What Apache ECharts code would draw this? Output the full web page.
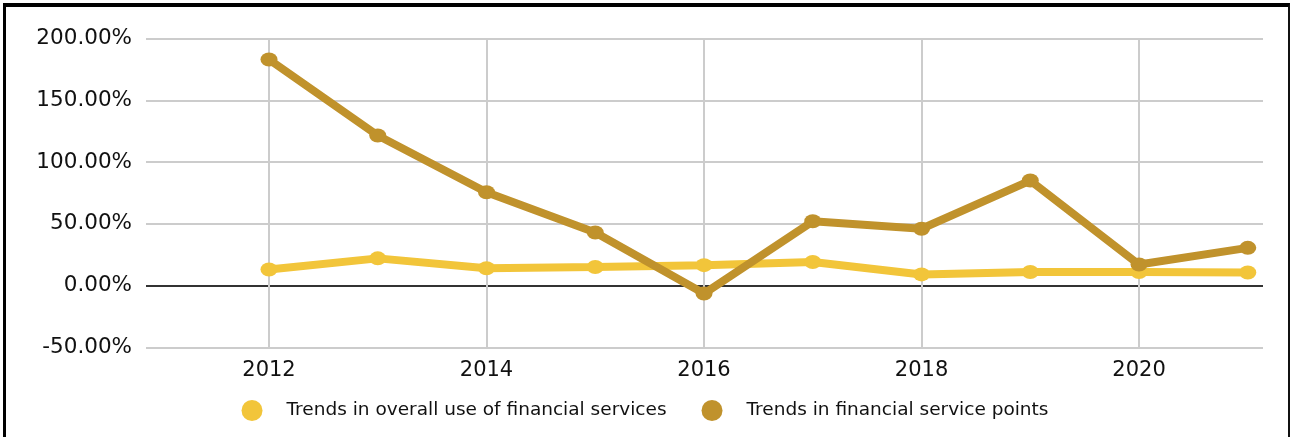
<!DOCTYPE html>
<html>
<head>
<meta charset="utf-8">
<script src="https://cdn.jsdelivr.net/npm/echarts@6/dist/echarts.min.js"></script>
<style>
  html, body { margin: 0; padding: 0; background: #fff; }
  #wrap { position: relative; width: 1290px; height: 437px; overflow: hidden; }
  #chart { position: absolute; left: 0; top: 0; width: 1290px; height: 437px; }
  #frame {
    position: absolute; left: 3px; top: 3px; width: 1282px; height: 440px;
    border-top: 4px solid #000; border-left: 3px solid #000; border-right: 2px solid #111;
    pointer-events: none;
  }
</style>
</head>
<body>
<div id="wrap">
  <div id="chart"></div>
  <div id="frame"></div>
</div>
<script>
// Years on the horizontal axis
const years = [2012, 2013, 2014, 2015, 2016, 2017, 2018, 2019, 2020, 2021];
// Year-on-year change, in percent
const overallUse = [13, 22, 14, 15, 16.5, 19, 9, 11, 11, 10.5];
const servicePoints = [183, 121.5, 75.5, 43, -6.5, 52, 46, 85, 17, 30.5];
// Labelled years on the horizontal axis
const yearTicks = [2012, 2014, 2016, 2018, 2020];
// Vertical axis range
const yMin = -50, yMax = 200, yStep = 50;

const names = ['Trends in overall use of financial services', 'Trends in financial service points'];
const colors = ['#f2c53a', '#c0922c'];
const ellipse = 'path://M-1,0A1,1,0,1,0,1,0A1,1,0,1,0,-1,0Z';
const font = '"DejaVu Sans", Arial, sans-serif';

const pairs = arr => years.map((y, i) => [y, arr[i]]);

const chart = echarts.init(document.getElementById('chart'), null, { renderer: 'canvas' });
chart.setOption({
  animation: false,
  backgroundColor: '#fff',
  grid: { left: 146, right: 27, top: 38.5, bottom: 89.7, containLabel: false },
  xAxis: {
    type: 'value',
    min: 2010.869,
    max: 2021.14,
    axisLine: { show: false },
    axisTick: { show: false, customValues: yearTicks },
    axisLabel: {
      customValues: yearTicks,
      formatter: v => String(v),
      color: '#111', fontFamily: font, fontSize: 21, margin: 13
    },
    splitLine: { show: true, lineStyle: { color: '#cccccc', width: 2 } }
  },
  yAxis: {
    type: 'value',
    min: yMin, max: yMax, interval: yStep,
    axisLine: { show: false },
    axisTick: { show: false },
    axisLabel: {
      formatter: v => v.toFixed(2) + '%',
      color: '#111', fontFamily: font, fontSize: 21.5, margin: 14,
      padding: [4, 0, 0, 0]
    },
    splitLine: {
      show: true,
      lineStyle: { color: ['#cccccc', '#333333', '#cccccc', '#cccccc', '#cccccc', '#cccccc'], width: 2 }
    }
  },
  legend: {
    top: 395,
    left: 'center',
    itemWidth: 25,
    itemHeight: 21,
    itemGap: 35,
    icon: ellipse,
    textStyle: { color: '#111', fontFamily: font, fontSize: 18.5, padding: [0, 0, 0, 17] },
    data: names
  },
  series: [
    {
      name: names[0], type: 'line', data: pairs(overallUse),
      color: colors[0],
      symbol: ellipse, symbolSize: [17, 14], showSymbol: true,
      lineStyle: { width: 8, color: colors[0] },
      itemStyle: { color: colors[0] },
      z: 3
    },
    {
      name: names[1], type: 'line', data: pairs(servicePoints),
      color: colors[1],
      symbol: ellipse, symbolSize: [17, 14], showSymbol: true,
      lineStyle: { width: 8, color: colors[1] },
      itemStyle: { color: colors[1] },
      z: 4
    }
  ]
});
</script>
</body>
</html>
